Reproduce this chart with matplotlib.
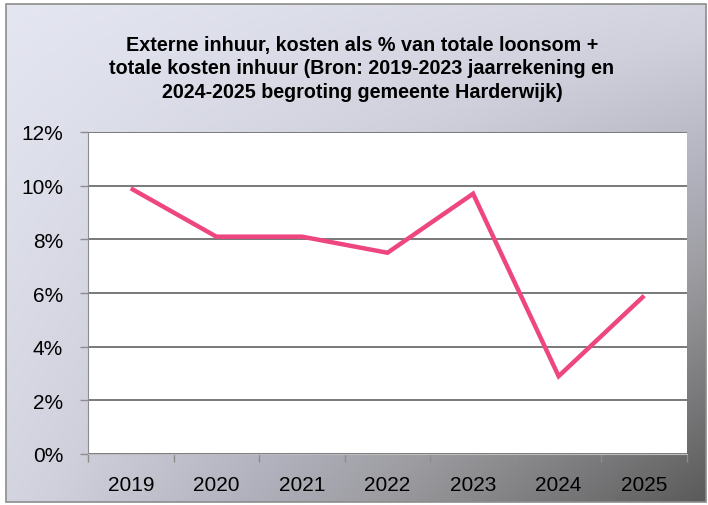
import matplotlib.pyplot as plt
import numpy as np
from matplotlib.colors import LinearSegmentedColormap
from matplotlib.patches import Rectangle
from matplotlib.ticker import FixedLocator, NullFormatter

jaren = ["2019", "2020", "2021", "2022", "2023", "2024", "2025"]
percentage = [9.9, 8.1, 8.1, 7.5, 9.7, 2.9, 5.9]
y_ticks = [0, 2, 4, 6, 8, 10, 12]

titel = ("Externe inhuur, kosten als % van totale loonsom +\n"
         "totale kosten inhuur (Bron: 2019-2023 jaarrekening en\n"
         "2024-2025 begroting gemeente Harderwijk)")

plt.rcParams["font.family"] = ["Liberation Sans", "DejaVu Sans"]

fig = plt.figure(figsize=(7.08, 5.06), dpi=100)

# achtergrond met verloop (licht linksboven, donker rechtsonder)
bg = fig.add_axes([6 / 708, 1 - 503 / 506, 700 / 708, 498 / 506])
bg.set_axis_off()
xx, yy = np.meshgrid(np.linspace(0, 1, 300), np.linspace(0, 1, 300))
s = 0.4 * (xx + yy) / 2 + 0.6 * xx * yy
cmap = LinearSegmentedColormap.from_list(
    "verloop",
    [(0.0, "#e4e6f2"), (0.25, "#cfd0dc"), (0.48, "#b0b0bc"),
     (0.64, "#9a9a9e"), (1.0, "#5a5a5a")])
bg.imshow(s, cmap=cmap, vmin=0, vmax=1, extent=[0, 1, 1, 0], aspect="auto")
bg.set_xlim(0, 1)
bg.set_ylim(1, 0)
bg.add_patch(Rectangle((0, 0), 1, 1, fill=False, edgecolor="#8c8c8c",
                       linewidth=1.2, transform=bg.transAxes, clip_on=False))

fig.text(362 / 708, 1 - 69 / 506, titel, ha="center", va="center",
         fontsize=14.2, fontweight="bold", linespacing=1.3)

ax = fig.add_axes([88 / 708, 1 - 455 / 506, 599 / 708, 322 / 506])
ax.set_facecolor("white")
x = np.arange(len(jaren))
ax.plot(x, percentage, color="#ee4680", linewidth=3.2, solid_capstyle="butt",
        solid_joinstyle="miter")

ax.set_xlim(-0.5, len(jaren) - 0.5)
ax.set_ylim(0, 12)
ax.set_yticks(y_ticks)
ax.set_yticklabels([f"{v}%" for v in y_ticks])
ax.set_xticks(x)
ax.set_xticklabels(jaren)
ax.xaxis.set_minor_locator(FixedLocator(np.arange(-0.5, len(jaren), 1)))
ax.xaxis.set_minor_formatter(NullFormatter())
ax.tick_params(axis="x", which="major", length=0, pad=15, labelsize=15)
ax.tick_params(axis="x", which="minor", length=6, color="#8c8c8c", width=1)
ax.tick_params(axis="y", length=6, color="#8c8c8c", width=1, pad=12, labelsize=15)

ax.grid(axis="y", color="#6e6e6e", linewidth=1.3)
ax.set_axisbelow(True)
for side in ["top", "right"]:
    ax.spines[side].set_visible(False)
ax.spines["left"].set_color("#8c8c8c")
ax.spines["bottom"].set_color("#bdbdbd")

plt.savefig("out.png", dpi=100)
plt.close()
